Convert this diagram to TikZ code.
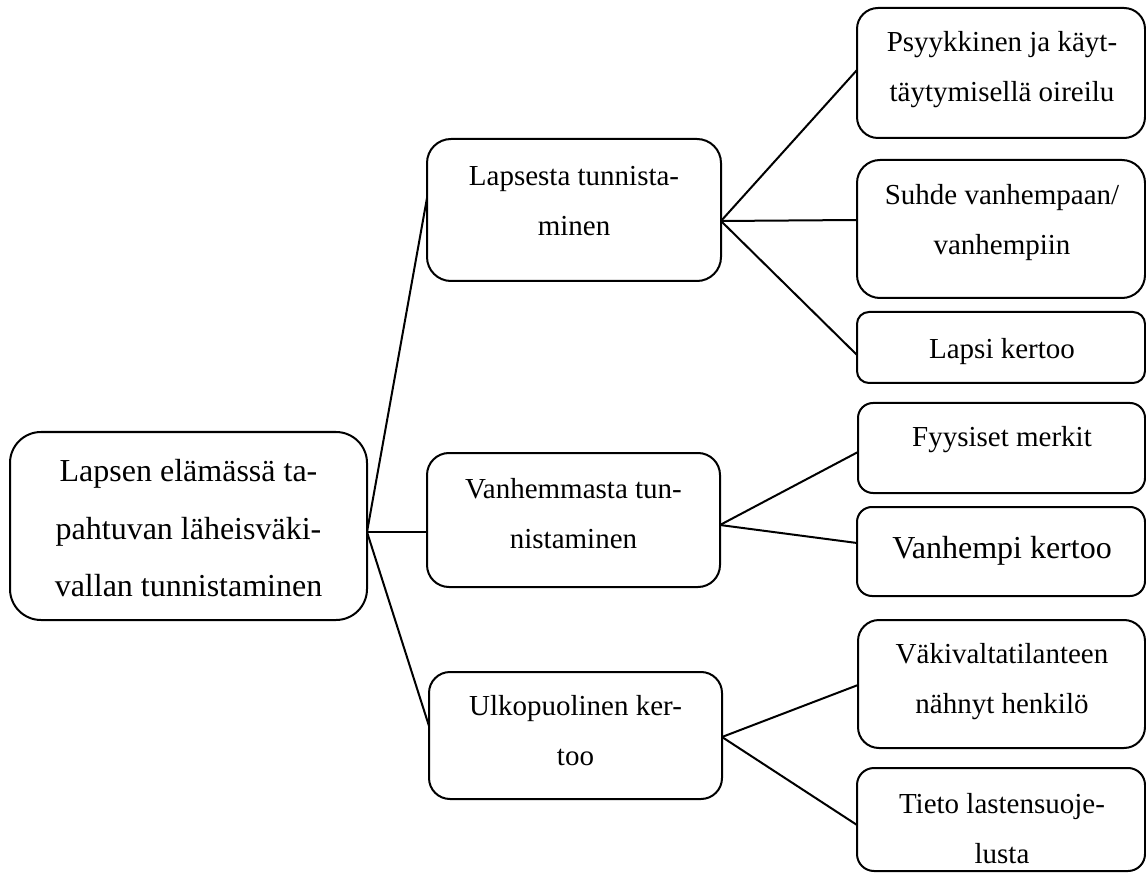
\documentclass[tikz,border=0pt]{standalone}
\usepackage{fontspec}
\setmainfont{Liberation Serif}
\begin{document}
\begin{tikzpicture}[x=1pt,y=-1pt,
  box/.style={draw=black, line width=2pt, inner sep=0pt, outer sep=0pt, fill=white},
  txt/.style={anchor=base, align=center, inner sep=0pt, font=\fontsize{29}{50}\selectfont},
  bigtxt/.style={anchor=base, align=center, inner sep=0pt, font=\fontsize{32}{57.5}\selectfont},
  link/.style={draw=black, line width=2pt}]
\useasboundingbox (0,0) rectangle (1146,874);
% boxes
\node[box, minimum width=357pt, minimum height=188pt, rounded corners=31pt] (root) at (188.5,526) {};
\node[box, minimum width=294pt, minimum height=142pt, rounded corners=24pt] (b1) at (574,210) {};
\node[box, minimum width=293pt, minimum height=134pt, rounded corners=22pt] (b2) at (573.5,520) {};
\node[box, minimum width=293pt, minimum height=127pt, rounded corners=21pt] (b3) at (575.5,735.5) {};
\node[box, minimum width=288pt, minimum height=130pt, rounded corners=21pt] (r1) at (1001,73) {};
\node[box, minimum width=288pt, minimum height=138pt, rounded corners=23pt] (r2) at (1001,229) {};
\node[box, minimum width=288pt, minimum height=71pt, rounded corners=12pt] (r3) at (1001,347.5) {};
\node[box, minimum width=287pt, minimum height=90pt, rounded corners=15pt] (r4) at (1001.5,448) {};
\node[box, minimum width=288pt, minimum height=89pt, rounded corners=15pt] (r5) at (1001,551.5) {};
\node[box, minimum width=287pt, minimum height=128pt, rounded corners=21pt] (r6) at (1001.5,684) {};
\node[box, minimum width=288pt, minimum height=103pt, rounded corners=17pt] (r7) at (1001,819.5) {};
% texts (anchor base = baseline of the last line)
\node[bigtxt] (troot) at (188.5,596.7) {Lapsen elämässä ta-\\pahtuvan läheisväki-\\vallan tunnistaminen};
\node[txt] (tb1) at (574,236) {Lapsesta tunnista-\\minen};
\node[txt] (tb2) at (573.5,548.3) {Vanhemmasta tun-\\nistaminen};
\node[txt] (tb3) at (575.5,765) {Ulkopuolinen ker-\\too};
\node[txt] (tr1) at (1002,101.7) {Psyykkinen ja käyt-\\täytymisellä oireilu};
\node[txt] (tr2) at (1002,255) {Suhde vanhempaan/\\vanhempiin};
\node[txt] (tr3) at (1002,358.3) {Lapsi kertoo};
\node[txt] (tr4) at (1002,446.7) {Fyysiset merkit};
\node[bigtxt] (tr5) at (1002,558) {Vanhempi kertoo};
\node[txt] (tr6) at (1002,713.3) {Väkivaltatilanteen\\nähnyt henkilö};
\node[txt] (tr7) at (1002,863.3) {Tieto lastensuoje-\\lusta};
% connectors
\draw[link] ([yshift=-6pt]root.east) -- ([yshift=12pt]b1.west);
\draw[link] ([yshift=-6pt]root.east) -- ([yshift=-12pt]b2.west);
\draw[link] ([yshift=-6pt]root.east) -- ([yshift=9.5pt]b3.west);
\draw[link] ([yshift=-11pt]b1.east) -- ([yshift=3pt]r1.west);
\draw[link] ([yshift=-11pt]b1.east) -- ([yshift=9pt]r2.west);
\draw[link] ([yshift=-11pt]b1.east) -- ([yshift=-7.5pt]r3.west);
\draw[link] ([yshift=-5pt]b2.east) -- ([yshift=-4pt]r4.west);
\draw[link] ([yshift=-5pt]b2.east) -- ([yshift=8.5pt]r5.west);
\draw[link] ([yshift=-1.5pt]b3.east) -- ([yshift=-1pt]r6.west);
\draw[link] ([yshift=-1.5pt]b3.east) -- ([yshift=-5.5pt]r7.west);
\end{tikzpicture}
\end{document}
